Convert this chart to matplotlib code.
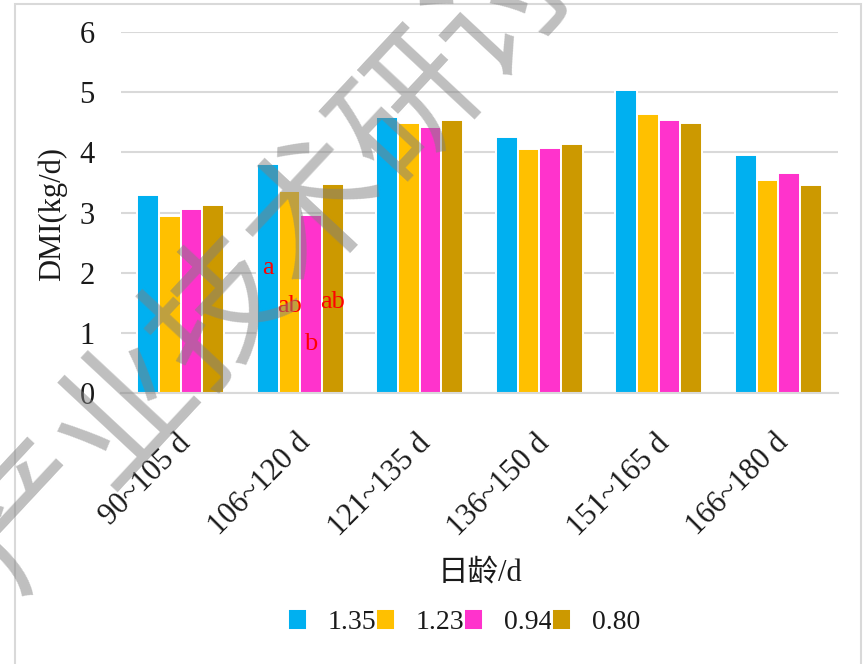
import matplotlib
matplotlib.use("Agg")
import matplotlib.pyplot as plt
import matplotlib.transforms as mtransforms
import numpy as np
from matplotlib.patches import Rectangle

# Age groups and daily dry-matter intake for four treatment levels
categories = ["90~105 d", "106~120 d", "121~135 d", "136~150 d", "151~165 d", "166~180 d"]
series_names = ["1.35", "1.23", "0.94", "0.80"]
dmi_135 = [3.29, 3.81, 4.59, 4.25, 5.03, 3.96]
dmi_123 = [2.94, 3.35, 4.49, 4.06, 4.64, 3.54]
dmi_094 = [3.05, 2.96, 4.42, 4.07, 4.54, 3.66]
dmi_080 = [3.13, 3.47, 4.54, 4.14, 4.48, 3.46]
series_values = [dmi_135, dmi_123, dmi_094, dmi_080]
colors = ["#00B0F0", "#FFC000", "#FF33CC", "#CC9900"]

# Significance letters for the 106~120 d group
sig_group = 1
sig_letters = ["a", "ab", "b", "ab"]
sig_heights = [2.07, 1.44, 0.81, 1.51]

yticks = [0, 1, 2, 3, 4, 5, 6]

serif = ["Liberation Serif", "Noto Sans CJK SC"]
plt.rcParams["font.family"] = serif
ink = "#1a1a1a"

fig = plt.figure(figsize=(8.67, 6.64), dpi=100)
ax = fig.add_axes([121 / 867, 1 - 393 / 664, (838 - 121) / 867, (393 - 32) / 664])

x = np.arange(len(categories))
slot = 0.182
offsets = (np.arange(len(series_names)) - 1.5) * slot
for vals, name, col, off in zip(series_values, series_names, colors, offsets):
    ax.bar(x + off, vals, width=slot, color=col, edgecolor="white",
           linewidth=1.4, label=name, zorder=2)

for letter, h, off in zip(sig_letters, sig_heights, offsets):
    ax.text(sig_group + off, h, letter, color="red", fontsize=19,
            ha="center", va="center", zorder=4)

ax.set_xlim(-0.5, len(categories) - 0.5)
ax.set_ylim(0, 6)
ax.set_yticks(yticks)
ax.set_yticklabels([str(t) for t in yticks], fontsize=22, color=ink)
ax.yaxis.grid(True, color="#d9d9d9", linewidth=1.5, zorder=0)
ax.set_axisbelow(True)
for s in ["top", "right", "left"]:
    ax.spines[s].set_visible(False)
ax.spines["bottom"].set_color("#d9d9d9")
ax.spines["bottom"].set_linewidth(1.5)
ax.tick_params(axis="both", length=0)
ax.tick_params(axis="y", pad=19)

ax.set_xticks(x)
ax.set_xticklabels(categories, fontsize=22, rotation=45, ha="right",
                   va="center", rotation_mode="anchor", color=ink)
ax.tick_params(axis="x", pad=33)
shift = mtransforms.ScaledTranslation(6 / 100, 0, fig.dpi_scale_trans)
for lbl in ax.get_xticklabels():
    lbl.set_transform(lbl.get_transform() + shift)

fig.text(52 / 867, 1 - 214 / 664, "DMI(kg/d)", rotation=90, fontsize=22,
         ha="center", va="center", color=ink)
fig.text(480 / 867, 1 - 573 / 664, "日龄/d", fontsize=22,
         ha="center", va="center", color=ink, family=serif)

handles, labels = ax.get_legend_handles_labels()
leg = fig.legend(handles, labels, loc="center", ncol=4,
                 bbox_to_anchor=(464 / 867, 1 - 622 / 664), frameon=False,
                 fontsize=20, handlelength=0.68, handleheight=0.8,
                 handletextpad=0.75, columnspacing=0.0)
for t in leg.get_texts():
    t.set_color(ink)

# Outer border
fig.add_artist(Rectangle((15 / 867, -0.05), (861 - 15) / 867, 1.05 - 4 / 664,
                         transform=fig.transFigure, fill=False,
                         edgecolor="#d9d9d9", linewidth=1.5))

# Diagonal watermark
fig.text(270 / 867, 1 - 262 / 664, "产业技术研讨", rotation=47, fontsize=100,
         family="Noto Sans CJK SC", fontweight="medium", color="#808080",
         alpha=0.5, ha="center", va="center", zorder=10)

fig.savefig("out.png", dpi=100)
